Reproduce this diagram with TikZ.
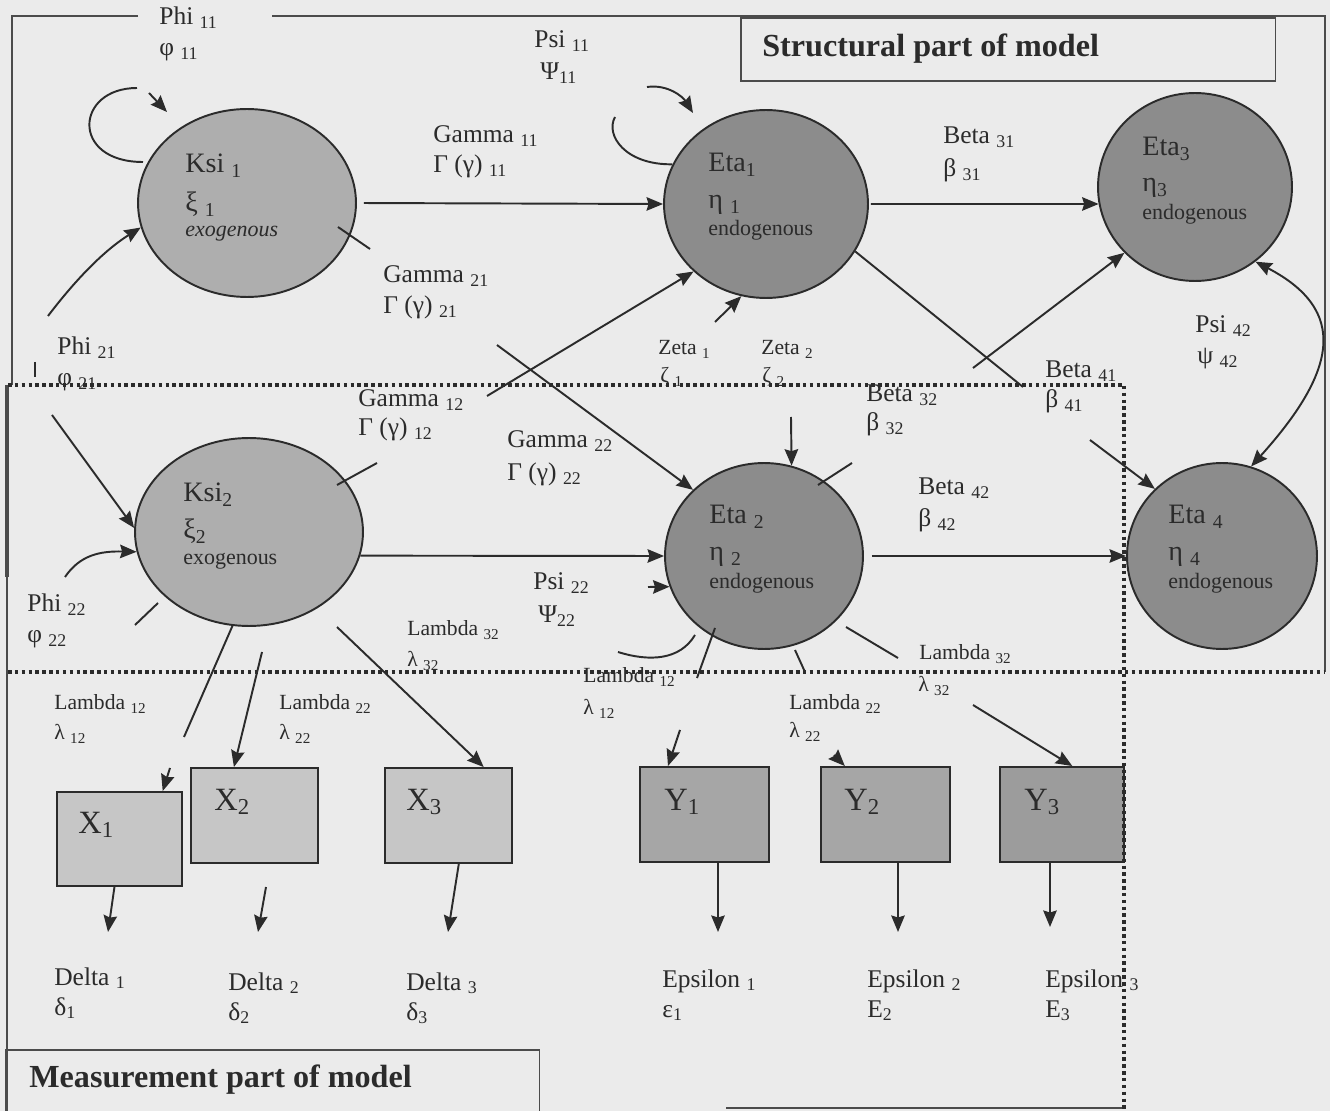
\documentclass[tikz,border=0pt]{standalone}
\usepackage{fontspec}
\setmainfont{Liberation Serif}
\usetikzlibrary{arrows.meta,shapes.geometric}
\definecolor{paper}{HTML}{EBEBEB}
\definecolor{ink}{HTML}{2B2B2B}
\definecolor{exofill}{HTML}{AEAEAE}
\definecolor{endofill}{HTML}{8C8C8C}
\definecolor{xfill}{HTML}{C6C6C6}
\definecolor{yfill}{HTML}{A6A6A6}
\definecolor{ythreefill}{HTML}{9C9C9C}
\begin{document}
\begin{tikzpicture}[x=0.02cm,y=-0.02cm,
  >={Stealth[length=0.33cm,width=0.27cm,inset=0.04cm]},
  every node/.style={inner sep=0pt, text=ink},
  wire/.style={draw=ink, line width=1.1pt},
  arr/.style={wire, ->},
  arrboth/.style={wire, <->},
  latent/.style={ellipse, draw=ink, line width=1.1pt},
  exo/.style={latent, fill=exofill},
  endo/.style={latent, fill=endofill},
  xbox/.style={rectangle, draw=ink, line width=1.1pt, fill=xfill},
  ybox/.style={rectangle, draw=ink, line width=1.1pt, fill=yfill},
  framerule/.style={draw=ink!85, line width=0.9pt},
  dotline/.style={draw=ink, line width=2pt, dash pattern=on 2pt off 1.9pt},
  tlabel/.style={anchor=base west, font=\fontsize{14.5}{16}\selectfont},
  slabel/.style={anchor=base west, font=\fontsize{12.3}{14}\selectfont},
  nlabel/.style={anchor=base west, font=\fontsize{16}{18}\selectfont},
  klabel/.style={anchor=base west, font=\fontsize{12.5}{14}\selectfont},
  olabel/.style={anchor=base west, font=\fontsize{18.5}{20}\selectfont},
  hlabel/.style={anchor=base west, font=\fontsize{18.3}{20}\selectfont\bfseries},
]
\useasboundingbox (0,0) rectangle (1330,1111);
\fill[paper] (0,0) rectangle (1330,1111);

% ---- frames of the two parts of the model
\draw[framerule] (138,16) -- (12,16) -- (12,385);
\draw[framerule] (272,16) -- (1325,16) -- (1325,672);
\draw[framerule, line width=1.6pt] (7,385) -- (7,1111);
\draw[framerule, line width=2.2pt] (7,385) -- (7,577);
\draw[framerule] (726,1108) -- (1122,1108);
\node[framerule, draw, anchor=north west, minimum width=10.7cm, minimum height=1.26cm] (structbox) at (740,17) {};
\node[framerule, draw, anchor=north west, minimum width=10.68cm, minimum height=1.4cm] (measbox) at (5,1049) {};
\node[hlabel] (structtxt) at (762,57) {Structural part of model};
\node[hlabel] (meastxt) at (29,1087) {Measurement part of model};

% ---- latent variables
\node[exo, minimum width=4.36cm, minimum height=3.76cm] (ksi1) at (247,203) {};
\node[exo, minimum width=4.56cm, minimum height=3.76cm] (ksi2) at (249,532) {};
\node[endo, minimum width=4.08cm, minimum height=3.76cm] (eta1) at (766,204) {};
\node[endo, minimum width=3.96cm, minimum height=3.72cm] (eta2) at (764,556) {};
\node[endo, minimum width=3.88cm, minimum height=3.76cm] (eta3) at (1195,187) {};
\node[endo, minimum width=3.80cm, minimum height=3.72cm] (eta4) at (1222,556) {};

% ---- observed variables
\node[xbox, minimum width=2.50cm, minimum height=1.88cm] (x1) at (119.5,839) {};
\node[xbox, minimum width=2.54cm, minimum height=1.90cm] (x2) at (254.5,815.5) {};
\node[xbox, minimum width=2.54cm, minimum height=1.90cm] (x3) at (448.5,815.5) {};
\node[ybox, minimum width=2.58cm, minimum height=1.90cm] (y1) at (704.5,814.5) {};
\node[ybox, minimum width=2.58cm, minimum height=1.90cm] (y2) at (885.5,814.5) {};
\node[ybox, fill=ythreefill, minimum width=2.48cm, minimum height=1.90cm] (y3) at (1062,814.5) {};

% ---- free ends of connectors
\coordinate (p11s) at (143,162);  \coordinate (p11e) at (137,88);
\coordinate (p11t) at (149,93);   \coordinate (p11h) at (167,112);
\coordinate (ps11e) at (615,117);
\coordinate (ps11s) at (647,87);  \coordinate (ps11h) at (693,113);
\coordinate (g21a) at (338,227);  \coordinate (g21b) at (370,249);
\coordinate (g21c) at (497,345);
\coordinate (g12a) at (337,485);  \coordinate (g12b) at (377,463);
\coordinate (g12c) at (487,396);
\coordinate (p21a) at (48,316);   \coordinate (p21b) at (52,415);
\coordinate (tick1) at (35,362);  \coordinate (tick2) at (35,377);
\coordinate (p22a) at (65,577);
\coordinate (p22b) at (135,625);  \coordinate (p22c) at (158,603);
\coordinate (z1) at (715,322);    \coordinate (z2) at (791,417);
\coordinate (b32a) at (818,485);  \coordinate (b32b) at (852,463);
\coordinate (b32c) at (973,368);
\coordinate (b41a) at (1023,387); \coordinate (b41b) at (1090,440);
\coordinate (ps22a) at (648,587);
\coordinate (ps22b) at (618,652); \coordinate (ps22c) at (695,635);
\coordinate (ly1a) at (715,628);  \coordinate (ly1b) at (697,678);
\coordinate (ly1c) at (680,730);
\coordinate (ly2a) at (795,650);  \coordinate (ly2b) at (805,672);
\coordinate (ly2c) at (834,755);
\coordinate (ly3a) at (846,627);  \coordinate (ly3b) at (898,658);
\coordinate (ly3c) at (973,705);
\coordinate (lx1a) at (184,737);  \coordinate (lx1b) at (170,768);
\coordinate (lx2a) at (262,652);  \coordinate (lx3a) at (337,627);
\coordinate (d1) at (108,932);
\coordinate (d2s) at (266,887);   \coordinate (d2) at (258,932);
\coordinate (d3) at (448,932);
\coordinate (e1) at (718,932);    \coordinate (e2) at (898,932);
\coordinate (e3) at (1050,927);

% ---- structural connectors
\draw[wire] (p11s) .. controls (70,162) and (75,88) .. (p11e);
\draw[arr] (p11t) -- (p11h);
\draw[wire] (eta1.157) .. controls (625,165) and (605,135) .. (ps11e);
\draw[arr] (ps11s) .. controls (668,84) and (683,97) .. (ps11h);
\draw[arr, shorten <=0.14cm] (ksi1.east) -- (eta1.west);
\draw[wire] (g21a) -- (g21b);
\draw[arr] (g21c) -- (eta2.137);
\draw[wire] (g12a) -- (g12b);
\draw[arr] (g12c) -- (eta1.223);
\draw[arr] (p21a) .. controls (70,287) and (100,253) .. (ksi1.193);
\draw[arr] (p21b) -- (ksi2.178);
\draw[wire] (tick1) -- (tick2);
\draw[arr] (p22a) .. controls (80,555) and (100,551) .. (ksi2.190);
\draw[wire] (p22b) -- (p22c);
\draw[arr] (z1) -- (eta1.255);
\draw[arr] (z2) -- (eta2.73);
\draw[arr, shorten <=0.04cm] (eta1.east) -- (eta3.190);
\draw[wire] (b32a) -- (b32b);
\draw[arr] (b32c) -- (eta3.223);
\draw[wire] (eta1.-28) -- (b41a);
\draw[arr] (b41b) -- (eta4.135);
\draw[arr, shorten <=0.16cm] (eta2.east) -- (eta4.west);
\draw[arrboth] (eta3.-51) .. controls (1348,310) and (1338,370) .. (eta4.72);
\draw[arr] (ksi2.-12) -- (eta2.west);
\draw[arr] (ps22a) -- (eta2.198);
\draw[wire] (ps22b) .. controls (650,662) and (680,660) .. (ps22c);

% ---- measurement connectors
\draw[wire] (ly1a) -- (ly1b);
\draw[arr] (ly1c) -- (y1.127.5);
\draw[wire] (ly2a) -- (ly2b);
\draw[arr] (ly2c) -- (y2.130);
\draw[wire] (ly3a) -- (ly3b);
\draw[arr] (ly3c) -- (y3.78);
\draw[wire] (ksi2.260) -- (lx1a);
\draw[arr] (lx1b) -- (x1.48);
\draw[arr] (lx2a) -- (x2.113);
\draw[arr] (lx3a) -- (x3.54);
\draw[arr] (x1.264) -- (d1);
\draw[arr] (d2s) -- (d2);
\draw[arr] (x3.282) -- (d3);
\draw[arr] (y1.south -| e1) -- (e1);
\draw[arr] (y2.south -| e2) -- (e2);
\draw[arr] (y3.south -| e3) -- (e3);

% ---- texts inside the latent variables
\node[nlabel] (ksi1a) at (185,173) {Ksi \textsubscript{1}};
\node[nlabel] (ksi1b) at (185,212) {ξ \textsubscript{1}};
\node[klabel] (ksi1c) at (185,237) {\itshape exogenous};
\node[nlabel] (ksi2a) at (183,502) {Ksi\textsubscript{2}};
\node[nlabel] (ksi2b) at (183,539) {ξ\textsubscript{2}};
\node[klabel] (ksi2c) at (183,565) {exogenous};
\node[nlabel] (eta1a) at (708,172) {Eta\textsubscript{1}};
\node[nlabel] (eta1b) at (708,209) {η \textsubscript{1}};
\node[klabel] (eta1c) at (708,236) {endogenous};
\node[nlabel] (eta3a) at (1142,156) {Eta\textsubscript{3}};
\node[nlabel] (eta3b) at (1142,192) {η\textsubscript{3}};
\node[klabel] (eta3c) at (1142,220) {endogenous};
\node[nlabel] (eta2a) at (709,524) {Eta \textsubscript{2}};
\node[nlabel] (eta2b) at (709,561) {η \textsubscript{2}};
\node[klabel] (eta2c) at (709,589) {endogenous};
\node[nlabel] (eta4a) at (1168,524) {Eta \textsubscript{4}};
\node[nlabel] (eta4b) at (1168,561) {η \textsubscript{4}};
\node[klabel] (eta4c) at (1168,589) {endogenous};

% ---- texts inside the observed variables
\node[olabel] (x1t) at (78,833) {X\textsubscript{1}};
\node[olabel] (x2t) at (214,810) {X\textsubscript{2}};
\node[olabel] (x3t) at (406,810) {X\textsubscript{3}};
\node[olabel] (y1t) at (664,810) {Y\textsubscript{1}};
\node[olabel] (y2t) at (844,810) {Y\textsubscript{2}};
\node[olabel] (y3t) at (1024,810) {Y\textsubscript{3}};

% ---- parameter labels
\node[tlabel] (phi11a) at (159,25) {Phi \textsubscript{11}};
\node[tlabel] (phi11b) at (159,56) {φ \textsubscript{11}};
\node[tlabel] (psi11a) at (534,48) {Psi \textsubscript{11}};
\node[tlabel] (psi11b) at (540,80) {Ψ\textsubscript{11}};
\node[tlabel] (gam11a) at (433,143) {Gamma \textsubscript{11}};
\node[tlabel] (gam11b) at (433,173) {Γ (γ) \textsubscript{11}};
\node[tlabel] (gam21a) at (383,283) {Gamma \textsubscript{21}};
\node[tlabel] (gam21b) at (383,314) {Γ (γ) \textsubscript{21}};
\node[tlabel] (phi21a) at (57,355) {Phi \textsubscript{21}};
\node[tlabel] (phi21b) at (57,386) {φ \textsubscript{21}};
\node[tlabel] (gam12a) at (358,407) {Gamma \textsubscript{12}};
\node[tlabel] (gam12b) at (358,436) {Γ (γ) \textsubscript{12}};
\node[tlabel] (gam22a) at (507,448) {Gamma \textsubscript{22}};
\node[tlabel] (gam22b) at (507,481) {Γ (γ) \textsubscript{22}};
\node[tlabel] (bet31a) at (943,144) {Beta \textsubscript{31}};
\node[tlabel] (bet31b) at (943,177) {β \textsubscript{31}};
\node[tlabel] (psi42a) at (1195,333) {Psi \textsubscript{42}};
\node[tlabel] (psi42b) at (1197,364) {ψ \textsubscript{42}};
\node[tlabel] (bet41a) at (1045,378) {Beta \textsubscript{41}};
\node[tlabel] (bet41b) at (1045,408) {β \textsubscript{41}};
\node[tlabel] (bet32a) at (866,402) {Beta \textsubscript{32}};
\node[tlabel] (bet32b) at (866,431) {β \textsubscript{32}};
\node[tlabel] (bet42a) at (918,495) {Beta \textsubscript{42}};
\node[tlabel] (bet42b) at (918,527) {β \textsubscript{42}};
\node[tlabel] (psi22a) at (533,590) {Psi \textsubscript{22}};
\node[tlabel] (psi22b) at (538,623) {Ψ\textsubscript{22}};
\node[tlabel] (phi22a) at (27,612) {Phi \textsubscript{22}};
\node[tlabel] (phi22b) at (27,643) {φ \textsubscript{22}};
\node[slabel] (zet1a) at (658,355) {Zeta \textsubscript{1}};
\node[slabel] (zet1b) at (660,383) {ζ \textsubscript{1}};
\node[slabel] (zet2a) at (761,355) {Zeta \textsubscript{2}};
\node[slabel] (zet2b) at (762,383) {ζ \textsubscript{2}};
\node[slabel] (lamx3a) at (407,636) {Lambda \textsubscript{32}};
\node[slabel] (lamx3b) at (407,667) {λ \textsubscript{32}};
\node[slabel] (lamx1a) at (54,710) {Lambda \textsubscript{12}};
\node[slabel] (lamx1b) at (54,740) {λ \textsubscript{12}};
\node[slabel] (lamx2a) at (279,710) {Lambda \textsubscript{22}};
\node[slabel] (lamx2b) at (279,740) {λ \textsubscript{22}};
\node[slabel] (lamy1a) at (583,683) {Lambda \textsubscript{12}};
\node[slabel] (lamy1b) at (583,715) {λ \textsubscript{12}};
\node[slabel] (lamy2a) at (789,710) {Lambda \textsubscript{22}};
\node[slabel] (lamy2b) at (789,738) {λ \textsubscript{22}};
\node[slabel] (lamy3a) at (919,660) {Lambda \textsubscript{32}};
\node[slabel] (lamy3b) at (918,692) {λ \textsubscript{32}};
\node[tlabel] (del1a) at (54,985) {Delta \textsubscript{1}};
\node[tlabel] (del1b) at (54,1015) {δ\textsubscript{1}};
\node[tlabel] (del2a) at (228,990) {Delta \textsubscript{2}};
\node[tlabel] (del2b) at (228,1020) {δ\textsubscript{2}};
\node[tlabel] (del3a) at (406,990) {Delta \textsubscript{3}};
\node[tlabel] (del3b) at (406,1020) {δ\textsubscript{3}};
\node[tlabel] (eps1a) at (662,987) {Epsilon \textsubscript{1}};
\node[tlabel] (eps1b) at (662,1017) {ε\textsubscript{1}};
\node[tlabel] (eps2a) at (867,987) {Epsilon \textsubscript{2}};
\node[tlabel] (eps2b) at (867,1017) {E\textsubscript{2}};
\node[tlabel] (eps3a) at (1045,987) {Epsilon \textsubscript{3}};
\node[tlabel] (eps3b) at (1045,1017) {E\textsubscript{3}};

% ---- dotted boundaries between the two parts
\draw[dotline] (8,385) -- (1124,385) -- (1124,1111);
\draw[dotline] (8,672) -- (1325,672);
\end{tikzpicture}
\end{document}
